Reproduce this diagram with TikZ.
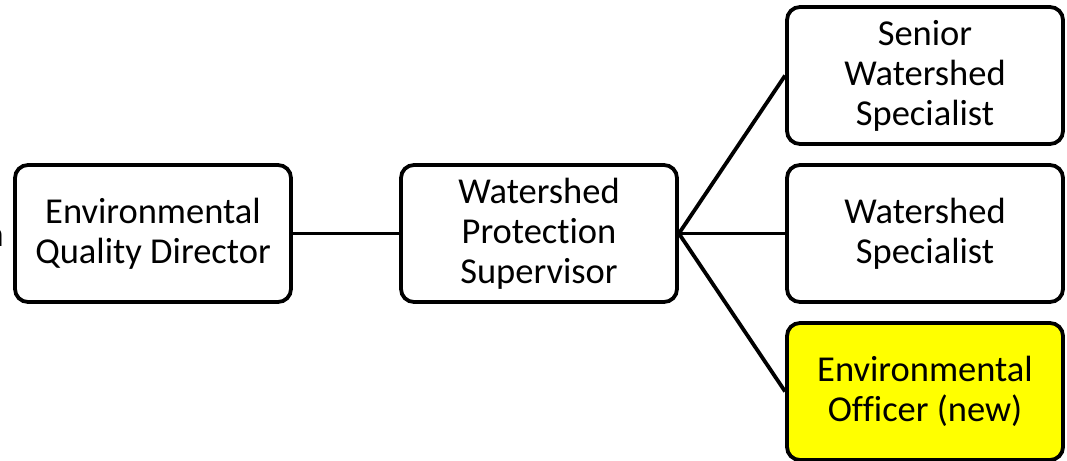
\documentclass[tikz,border=0pt]{standalone}
\usepackage{fontspec}
\setmainfont[Ligatures=NoCommon]{Carlito}
\definecolor{newfill}{RGB}{255,255,0}
\begin{document}
\begin{tikzpicture}[x=1pt,y=-1pt,
  orgbox/.style={draw=black, line width=3.8pt, rounded corners=13pt, fill=white,
    minimum width=276pt, minimum height=137pt, inner sep=0pt,
    align=center, font=\fontsize{36.5}{40}\selectfont},
  newbox/.style={orgbox, fill=newfill},
  link/.style={line width=3.8pt}]
\useasboundingbox (0,0) rectangle (1067,460);
\clip (0,0) rectangle (1067,460);
% partly hidden letter at the left border
\node[anchor=base east, inner sep=0pt, font=\fontsize{36.5}{40}\selectfont] (edge) at (4,246) {n};
% boxes
\node[orgbox] (eqd) at (153,233.5) {Environmental\\Quality Director};
\node[orgbox] (wps) at (539,233.5) {Watershed\\Protect\kern0pt ion\\Supervisor};
\node[orgbox] (sws) at (925,75.5) {Senior\\Watershed\\Specialist};
\node[orgbox] (ws) at (925,233.5) {Watershed\\Specialist};
\node[newbox] (eo) at (925,391.5) {Environmental\\Officer (new)};
% connectors
\draw[link] (eqd.east) -- (wps.west);
\draw[link] (wps.east) -- (sws.west);
\draw[link] (wps.east) -- (ws.west);
\draw[link] (wps.east) -- (eo.west);
\end{tikzpicture}
\end{document}
